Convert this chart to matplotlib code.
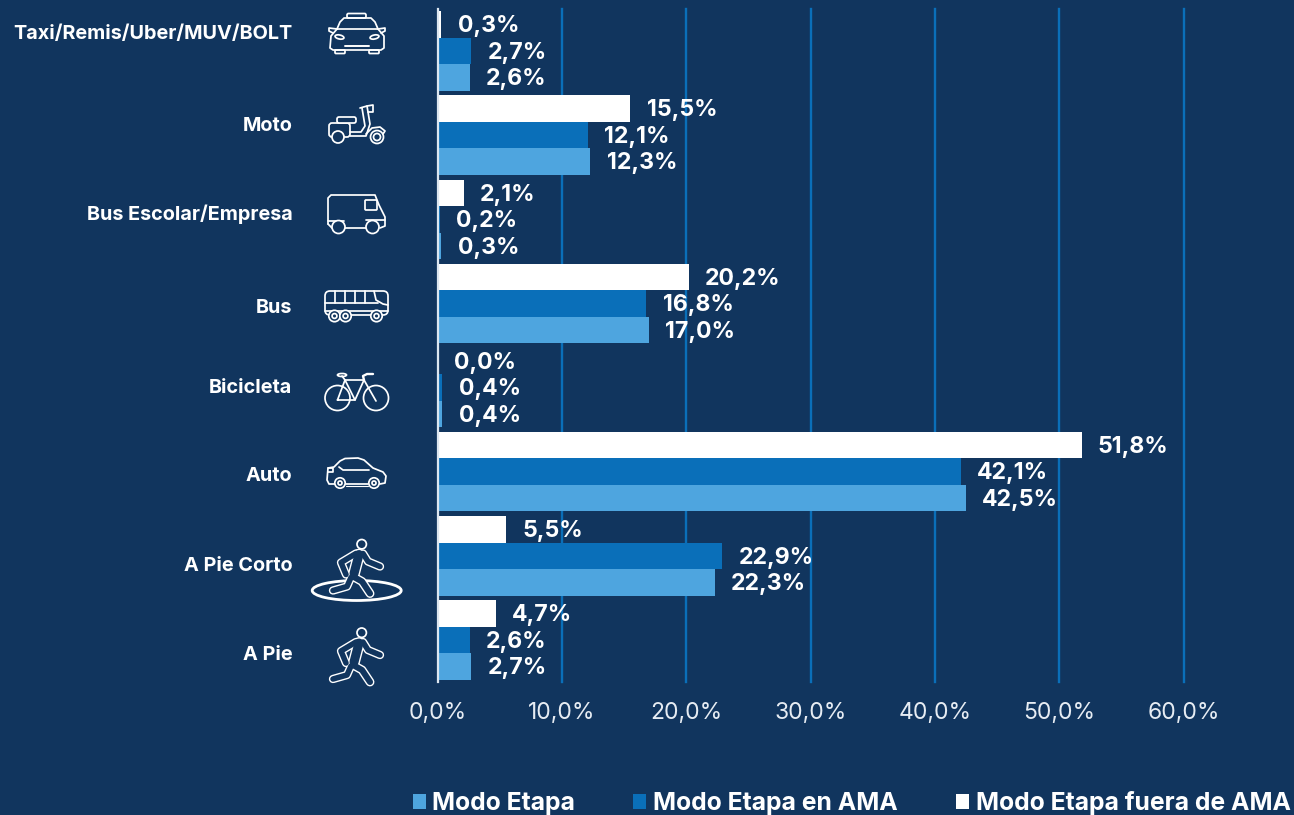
import matplotlib
matplotlib.use("Agg")
import matplotlib.pyplot as plt
from matplotlib.patches import Circle, Ellipse, FancyBboxPatch
from matplotlib.transforms import ScaledTranslation
from matplotlib.ticker import FuncFormatter
import numpy as np

categories = ["A Pie", "A Pie Corto", "Auto", "Bicicleta", "Bus",
              "Bus Escolar/Empresa", "Moto", "Taxi/Remis/Uber/MUV/BOLT"]
modo_etapa = [2.7, 22.3, 42.5, 0.4, 17.0, 0.3, 12.3, 2.6]
modo_ama = [2.6, 22.9, 42.1, 0.4, 16.8, 0.2, 12.1, 2.7]
modo_fuera = [4.7, 5.5, 51.8, 0.0, 20.2, 2.1, 15.5, 0.3]
series_names = ["Modo Etapa", "Modo Etapa en AMA", "Modo Etapa fuera de AMA"]
xticks = [0, 10, 20, 30, 40, 50, 60]

BG = "#11355E"
BLUE = "#0A6FB9"
LIGHT = "#4EA5DF"
WHITE = "#FFFFFF"
W, H = 1294, 815
FONT = "Inter"
plt.rcParams["font.family"] = [FONT, "DejaVu Sans"]

fig = plt.figure(figsize=(W / 100, H / 100), dpi=100, facecolor=BG)
ax = fig.add_axes([437.5 / W, 1 - 682 / H, (1183.5 - 437.5) / W, 673 / H], facecolor=BG)

y = np.arange(len(categories))
bh = 0.315
s1 = ax.barh(y - bh, modo_etapa, bh, color=LIGHT, zorder=3, label=series_names[0])
s2 = ax.barh(y, modo_ama, bh, color=BLUE, zorder=3, label=series_names[1])
s3 = ax.barh(y + bh, modo_fuera, bh, color=WHITE, zorder=3, label=series_names[2])

for bars, vals in ((s1, modo_etapa), (s2, modo_ama), (s3, modo_fuera)):
    for r, v in zip(bars, vals):
        ax.annotate(f"{v:.1f}%".replace(".", ","),
                    (v, r.get_y() + r.get_height() / 2),
                    xytext=(11.8, -1.3), textcoords="offset points",
                    va="center", ha="left", color=WHITE,
                    fontsize=16.6, fontweight="bold", zorder=5)

ax.set_xlim(0, 60)
ax.set_ylim(-0.5, 7.5)
ax.set_xticks(xticks)
ax.xaxis.set_major_formatter(FuncFormatter(lambda v, _: f"{v:.1f}%".replace(".", ",")))
ax.tick_params(axis="x", length=0, pad=14.5, labelsize=16.5, labelcolor="#E6ECF3")
ax.set_yticks(y)
ax.set_yticklabels(categories, fontsize=14.3, fontweight="bold", color=WHITE)
ax.tick_params(axis="y", length=0, pad=104.5)
# the category labels sit a little off the bar-group centres in the reference
label_shift_px = [13, 8, 2, -2, 3, -7, -11, -19]
for lab, d in zip(ax.get_yticklabels(), label_shift_px):
    lab.set_transform(lab.get_transform() + ScaledTranslation(0, -d / 100, fig.dpi_scale_trans))

ax.grid(axis="x", color=BLUE, lw=1.7, zorder=1)
for line in ax.xaxis.get_gridlines():
    line.set_clip_on(False)
for s in ("top", "right", "bottom"):
    ax.spines[s].set_visible(False)
ax.spines["left"].set_color("#DCE6F0")
ax.spines["left"].set_linewidth(1.6)
ax.spines["left"].set_zorder(6)
ax.xaxis.get_gridlines()[0].set_visible(False)

h = [s1, s2, s3]
leg = fig.legend(h, series_names, ncols=3, loc="lower right",
                 bbox_to_anchor=(1299.5 / W, -9 / H), frameon=False,
                 prop={"family": FONT, "weight": "bold", "size": 17.8},
                 labelcolor=WHITE, handlelength=0.52, handleheight=0.52,
                 handletextpad=0.28, columnspacing=2.35, borderpad=0.35, borderaxespad=0)

# ---- pictograms, drawn in a pixel-coordinate overlay ----
ic = fig.add_axes([0, 0, 1, 1], facecolor="none", zorder=10)
ic.set_xlim(0, W)
ic.set_ylim(H, 0)
ic.axis("off")
LW = 1.25


def pl(pts, lw=LW, c=WHITE, **kw):
    xs, ys = zip(*pts)
    ic.plot(xs, ys, color=c, lw=lw, solid_capstyle="round", solid_joinstyle="round", **kw)


def circ(x0, y0, r, lw=LW, fill=BG):
    ic.add_patch(Circle((x0, y0), r, fc=fill, ec=WHITE, lw=lw, zorder=4))


def rbox(x0, y0, w, h2, r=2, fill="none"):
    ic.add_patch(FancyBboxPatch((x0, y0), w, h2, boxstyle=f"round,pad=0,rounding_size={r}",
                                fc=fill, ec=WHITE, lw=LW))


# taxi
pl([(337, 29), (340, 22), (344, 18), (371, 18), (375, 22), (378, 29)])
rbox(347, 13.5, 19, 4.5, 1.5)
pl([(337, 29), (331, 36), (330, 48), (333, 50), (381, 50), (384, 48), (384, 36), (378, 29), (337, 29)])
pl([(337, 29), (329, 28), (329, 31), (333, 33)])
pl([(378, 29), (385, 28), (385, 31), (381, 33)])
rbox(335, 50, 10, 3.5, 1)
rbox(369, 50, 10, 3.5, 1)
pl([(345, 45.5), (369, 45.5)], lw=1.4)
ic.add_patch(Ellipse((339.5, 37), 9, 4, angle=12, fc="none", ec=WHITE, lw=LW))
ic.add_patch(Ellipse((374.5, 37), 9, 4, angle=-12, fc="none", ec=WHITE, lw=LW))

# scooter
circ(338, 137, 6)
circ(377, 137, 6.5)
circ(377, 137, 3.5)
rbox(329, 123, 21, 14, 3, fill=BG)
rbox(337, 117, 19, 6, 2, fill=BG)
pl([(350, 132), (361, 132), (365, 126), (362, 108)])
pl([(367, 106), (370, 124), (366, 136), (350, 136)])
pl([(360, 108), (367, 106), (373, 105), (373, 112), (368, 112)])
pl([(366, 134), (372, 128), (380, 127), (385, 131), (383, 134)])

# van
pl([(328, 224), (328, 198), (331, 195), (375, 195), (379, 205), (385, 217), (385, 226), (380, 228)])
pl([(328, 224), (332, 228), (366, 228)])
pl([(328, 221), (344, 221)])
pl([(366, 220), (385, 220)])
rbox(365, 200, 12, 10, 1)
circ(338.5, 227, 6.5)
circ(372.5, 227, 6.5)

# bus
rbox(325, 291, 63, 24, 5)
for xv in (335, 345, 355, 365):
    pl([(xv, 291), (xv, 303)])
pl([(325, 303), (378, 303)])
pl([(374, 291), (376, 300), (383, 304), (388, 305)])
pl([(325, 311), (388, 311)])
for xv in (334.5, 345.5, 376.5):
    circ(xv, 316, 5.7)
    circ(xv, 316, 2.4)

# bicycle
circ(337.5, 398, 12.5, fill="none")
circ(376, 398, 12.5, fill="none")
pl([(337.5, 400), (345, 380), (355, 400), (337.5, 400)])
pl([(345, 380), (364, 380), (355, 400)])
pl([(364, 380), (376, 401)])
pl([(364, 380), (363, 376), (367, 374), (373, 374)], lw=1.7)
pl([(345, 380), (342, 376)])
ic.add_patch(Ellipse((342, 375), 9, 3, fc="none", ec=WHITE, lw=LW))

# car
pl([(335, 484), (329, 484), (327, 480), (328, 468), (334, 467), (340, 461), (345, 458.5), (358, 458),
    (364, 460), (373, 468), (383, 472), (386, 476), (385, 483), (380, 484)])
pl([(346, 484), (368, 484)])
pl([(346, 486), (368, 486)], lw=0.8)
pl([(339, 467), (343, 470), (369, 470)])
pl([(328, 468), (333, 468), (333, 472), (328, 472)])
circ(340, 483, 5.2)
circ(340, 483, 2)
circ(374, 483, 5.2)
circ(374, 483, 2)


def runner(dy):
    limbs = [([(363, 642), (368, 650), (380, 655)], 6.0),
             ([(356, 642), (341, 651), (346, 663)], 6.0),
             ([(359, 643), (354, 662)], 8.5),
             ([(353, 665), (362, 670), (370, 682)], 6.4),
             ([(351, 666), (347, 675), (333, 679)], 6.0)]
    for z, inner in ((5, 0.0), (6, 2.0)):
        for l, w in limbs:
            xs, ys = zip(*[(a, b + dy) for a, b in l])
            ic.plot(xs, ys, color=WHITE if inner == 0 else BG, lw=w - inner,
                    solid_capstyle="round", solid_joinstyle="round", zorder=z)
    ic.add_patch(Circle((361.7, 632.7 + dy), 4.7, fc=BG, ec=WHITE, lw=LW, zorder=7))


ic.add_patch(Ellipse((356.7, 590.5), 89, 20, fc="none", ec=WHITE, lw=2.0, zorder=4))
runner(0)
runner(-88.5)

fig.savefig("out.png", dpi=100, facecolor=BG)
